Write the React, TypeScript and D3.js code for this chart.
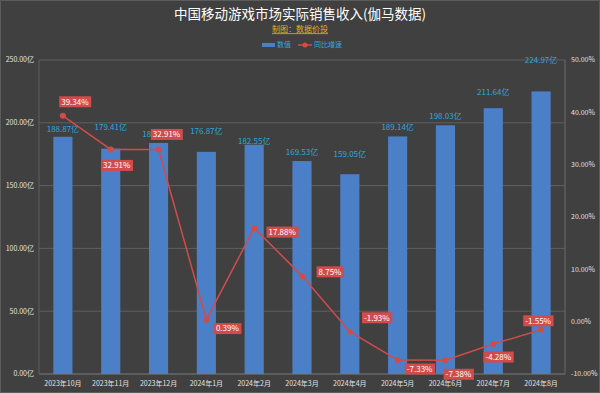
import React, { useEffect, useRef } from 'react';
import * as d3 from 'd3';

// chart data
const months = ['2023年10月', '2023年11月', '2023年12月', '2024年1月', '2024年2月', '2024年3月', '2024年4月', '2024年5月', '2024年6月', '2024年7月', '2024年8月'];
const revenue = [188.87, 179.41, 183.95, 176.87, 182.55, 169.53, 159.05, 189.14, 198.03, 211.64, 224.97];
const yoy = [39.34, 32.91, 32.91, 0.39, 17.88, 8.75, -1.93, -7.33, -7.38, -4.28, -1.55];
const leftTicks = [0, 50, 100, 150, 200, 250];
const rightTicks = [-10, 0, 10, 20, 30, 40, 50];

// label placement (layout only)
const yoyLabelOffset = [[12, -14], [6, 16], [8, -15], [21, 9], [28, 4], [28, -4], [27, -14], [22, 9], [13, 14], [5, 13], [-3, -9]];
const valueLabelGap = [8, 21, 9, 21, 4, 9, 20, 9, 9, 16, 31];

const W = 600;
const H = 393;
const margin = { top: 60, right: 35, bottom: 19, left: 39 };

const fmt = (v: number) => v.toFixed(2);

const App = () => {
  const svgRef = useRef<SVGSVGElement>(null);

  useEffect(() => {
    const svg = d3.select(svgRef.current);
    svg.selectAll('*').remove();

    const font = '"Noto Sans CJK SC", "Noto Sans", sans-serif';

    svg.append('rect').attr('width', W).attr('height', H).attr('fill', '#404040');
    svg.append('rect').attr('x', 0.5).attr('y', 0.5).attr('width', W - 1).attr('height', H - 1)
      .attr('fill', 'none').attr('stroke', '#5c5c5c');

    const x = d3.scaleBand().domain(months).range([margin.left, W - margin.right]).paddingInner(0.6).paddingOuter(0.3);
    const yL = d3.scaleLinear().domain([0, 250]).range([H - margin.bottom, margin.top]);
    const yR = d3.scaleLinear().domain([-10, 50]).range([H - margin.bottom, margin.top]);

    // gridlines
    svg.append('g').selectAll('line').data(leftTicks.slice(1)).enter().append('line')
      .attr('x1', margin.left).attr('x2', W - margin.right)
      .attr('y1', d => yL(d)).attr('y2', d => yL(d))
      .attr('stroke', '#5f5f5f').attr('stroke-width', 1);

    // axis lines
    svg.append('line').attr('x1', margin.left).attr('x2', W - margin.right)
      .attr('y1', yL(0)).attr('y2', yL(0)).attr('stroke', '#7a7a7a');
    svg.append('line').attr('x1', margin.left).attr('x2', margin.left)
      .attr('y1', yL(0)).attr('y2', yL(250)).attr('stroke', '#5f5f5f');
    svg.append('line').attr('x1', W - margin.right).attr('x2', W - margin.right)
      .attr('y1', yL(0)).attr('y2', yL(250)).attr('stroke', '#6a6a6a');

    // left ticks
    svg.append('g').selectAll('text').data(leftTicks).enter().append('text')
      .attr('x', margin.left - 5).attr('y', d => yL(d)).attr('dy', '0.35em')
      .attr('text-anchor', 'end').attr('font-size', 7).attr('fill', '#e0e0e0').attr('font-family', font)
      .text(d => fmt(d) + '亿');

    // right ticks
    svg.append('g').selectAll('text').data(rightTicks).enter().append('text')
      .attr('x', W - margin.right + 6).attr('y', d => yR(d)).attr('dy', '0.35em')
      .attr('text-anchor', 'start').attr('font-size', 7).attr('fill', '#e0e0e0').attr('font-family', font)
      .text(d => fmt(d) + '%');

    // x labels
    svg.append('g').selectAll('text').data(months).enter().append('text')
      .attr('x', d => (x(d) as number) + x.bandwidth() / 2).attr('y', H - margin.bottom + 10)
      .attr('dy', '0.35em').attr('text-anchor', 'middle')
      .attr('font-size', 7).attr('fill', '#e0e0e0').attr('font-family', font)
      .text(d => d);

    // bars
    svg.append('g').selectAll('rect').data(revenue).enter().append('rect')
      .attr('x', (d, i) => x(months[i]) as number).attr('width', x.bandwidth())
      .attr('y', d => yL(d)).attr('height', d => yL(0) - yL(d))
      .attr('fill', '#4b80c8');

    // bar value labels
    svg.append('g').selectAll('text').data(revenue).enter().append('text')
      .attr('x', (d, i) => (x(months[i]) as number) + x.bandwidth() / 2)
      .attr('y', (d, i) => yL(d) - valueLabelGap[i]).attr('dy', '0.35em')
      .attr('text-anchor', 'middle').attr('font-size', 8).attr('fill', '#2ea8dc').attr('font-family', font)
      .text(d => fmt(d) + '亿');

    // yoy line
    const cx = (i: number) => (x(months[i]) as number) + x.bandwidth() / 2;
    const line = d3.line<number>().x((d, i) => cx(i)).y(d => yR(d));
    svg.append('path').datum(yoy).attr('d', line).attr('fill', 'none')
      .attr('stroke', '#d24b4b').attr('stroke-width', 1.5);
    svg.append('g').selectAll('circle').data(yoy).enter().append('circle')
      .attr('cx', (d, i) => cx(i)).attr('cy', d => yR(d)).attr('r', 3)
      .attr('fill', '#d24b4b');

    // yoy labels
    const lab = svg.append('g').selectAll('g').data(yoy).enter().append('g')
      .attr('transform', (d, i) => `translate(${cx(i) + yoyLabelOffset[i][0]},${yR(d) + yoyLabelOffset[i][1]})`);
    lab.append('rect').attr('fill', '#d24b4b');
    lab.append('text').attr('text-anchor', 'middle').attr('dy', '0.35em')
      .attr('font-size', 8).attr('fill', '#ffffff').attr('font-family', font)
      .text(d => fmt(d) + '%');
    lab.each(function () {
      const g = d3.select(this);
      const bb = (g.select('text').node() as SVGTextElement).getBBox();
      g.select('rect').attr('x', bb.x - 2).attr('y', -5.5).attr('width', bb.width + 4).attr('height', 11);
    });

    // title
    svg.append('text').attr('x', W / 2).attr('y', 14).attr('dy', '0.35em').attr('text-anchor', 'middle')
      .attr('font-size', 13.5).attr('fill', '#ffffff').attr('font-family', font)
      .text('中国移动游戏市场实际销售收入(伽马数据)');
    svg.append('text').attr('x', W / 2).attr('y', 29.5).attr('dy', '0.35em').attr('text-anchor', 'middle')
      .attr('font-size', 8).attr('fill', '#e0b020').attr('font-family', font)
      .attr('text-decoration', 'underline')
      .text('制图：数据价投');

    // legend
    const lg = svg.append('g').attr('transform', 'translate(262,45)');
    lg.append('rect').attr('x', 0).attr('y', -2).attr('width', 13).attr('height', 4).attr('fill', '#4b80c8');
    lg.append('text').attr('x', 15).attr('dy', '0.35em').attr('font-size', 7).attr('fill', '#2ea8dc')
      .attr('font-family', font).text('数值');
    lg.append('line').attr('x1', 36).attr('x2', 50).attr('stroke', '#d24b4b').attr('stroke-width', 1.5);
    lg.append('circle').attr('cx', 43).attr('r', 2.5).attr('fill', '#d24b4b');
    lg.append('text').attr('x', 52).attr('dy', '0.35em').attr('font-size', 7).attr('fill', '#2ea8dc')
      .attr('font-family', font).text('同比增速');
  }, []);

  return (
    <div style={{ position: 'absolute', left: 0, top: 0 }}>
      <svg ref={svgRef} width={W} height={H} style={{ display: 'block' }}></svg>
    </div>
  );
};

export default App;
